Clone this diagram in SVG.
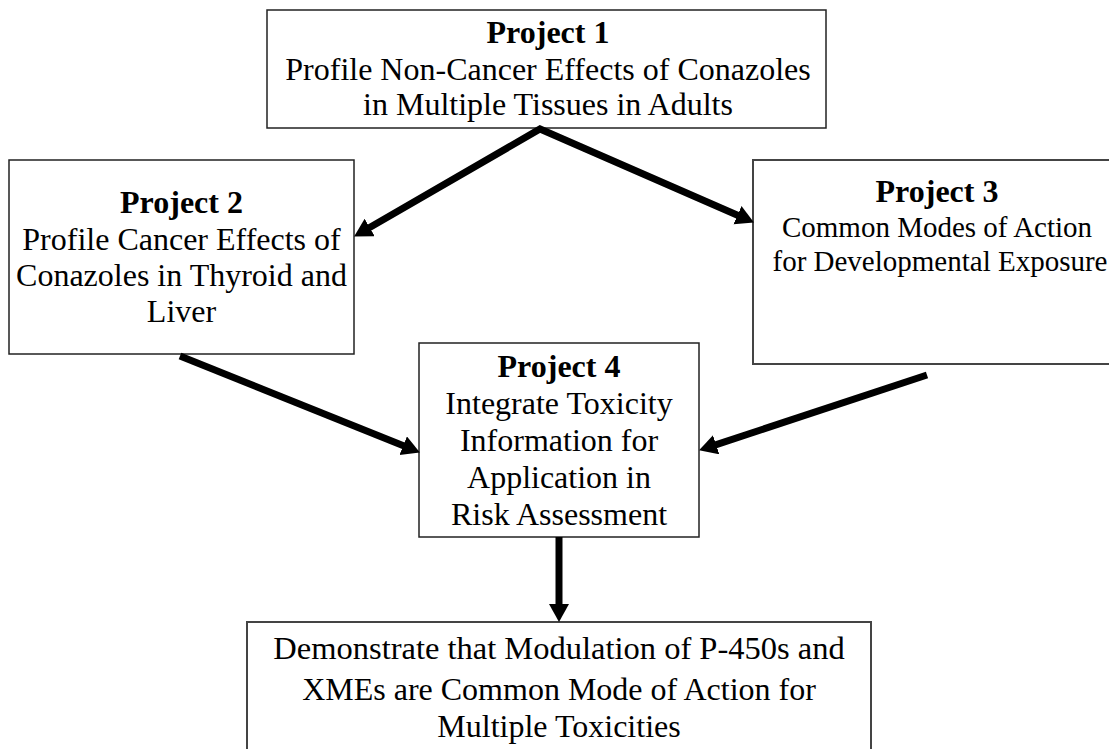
<svg xmlns="http://www.w3.org/2000/svg" width="1109" height="749" viewBox="0 0 1109 749">
<style>
.box{fill:#fff;stroke:#222;stroke-width:1.5}
.box2{fill:#fff;stroke:#444;stroke-width:2}
text{font-family:"Liberation Serif","Times New Roman",serif;fill:#000;text-anchor:middle}
.t{font-size:32px}
.s{font-size:29px}
.b{font-size:32px;font-weight:bold}
.edge{fill:none;stroke:#000;stroke-width:7;stroke-linejoin:miter}
</style>
<defs>
<marker id="ah" markerUnits="userSpaceOnUse" markerWidth="19" markerHeight="21" refX="7" refY="10" orient="auto-start-reverse" viewBox="0 0 19 21">
<path d="M0,0 L18,10 L0,20 z" fill="#000"/>
</marker>
</defs>
<rect width="1109" height="749" fill="#fff"/>
<g id="p1">
<rect class="box" x="267" y="10" width="559" height="118"/>
<text class="b" x="548" y="43">Project 1</text>
<text class="t" x="548" y="80">Profile Non-Cancer Effects of Conazoles</text>
<text class="t" x="548" y="115">in Multiple Tissues in Adults</text>
</g>
<g id="p2">
<rect class="box" x="9" y="160" width="345" height="194"/>
<text class="b" x="181.5" y="213">Project 2</text>
<text class="t" x="181.5" y="250">Profile Cancer Effects of</text>
<text class="t" x="181.5" y="286">Conazoles in Thyroid and</text>
<text class="t" x="181.5" y="322">Liver</text>
</g>
<g id="p3">
<rect class="box2" x="753" y="160" width="370" height="204"/>
<text class="b" x="937" y="202">Project 3</text>
<text class="s" x="937" y="237">Common Modes of Action</text>
<text class="s" x="940" y="271">for Developmental Exposure</text>
</g>
<g id="p4">
<rect class="box" x="419" y="343" width="280" height="194"/>
<text class="b" x="559" y="377">Project 4</text>
<text class="t" x="559" y="414">Integrate Toxicity</text>
<text class="t" x="559" y="451">Information for</text>
<text class="t" x="559" y="488">Application in</text>
<text class="t" x="559" y="525">Risk Assessment</text>
</g>
<g id="goal">
<rect class="box2" x="247" y="622" width="624" height="140"/>
<text class="t" x="559" y="659" style="font-size:32.5px">Demonstrate that Modulation of P-450s and</text>
<text class="t" x="559" y="700">XMEs are Common Mode of Action for</text>
<text class="t" x="559" y="737">Multiple Toxicities</text>
</g>
<g id="connectors">
<path class="edge" d="M363.6,231 L540,129 L743.9,218" marker-start="url(#ah)" marker-end="url(#ah)"/>
<path class="edge" d="M180,356 L409.7,448.3" marker-end="url(#ah)"/>
<path class="edge" d="M927,375 L709.5,446.9" marker-end="url(#ah)"/>
<path class="edge" d="M559,537 L559,611" marker-end="url(#ah)"/>
</g>
</svg>
